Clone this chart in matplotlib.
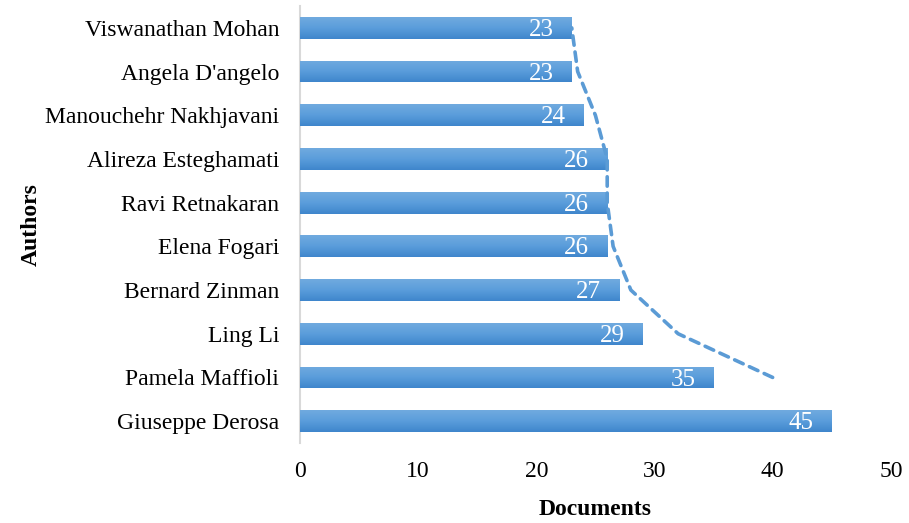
import numpy as np
import pandas as pd
import matplotlib.pyplot as plt
from matplotlib.colors import LinearSegmentedColormap

# Authors listed bottom to top, with their document counts
authors = ['Giuseppe Derosa', 'Pamela Maffioli', 'Ling Li', 'Bernard Zinman',
           'Elena Fogari', 'Ravi Retnakaran', 'Alireza Esteghamati',
           'Manouchehr Nakhjavani', "Angela D'angelo", 'Viswanathan Mohan']
documents = [45, 35, 29, 27, 26, 26, 26, 24, 23, 23]

plt.rcParams['font.family'] = ['Liberation Serif', 'DejaVu Serif']

fig = plt.figure(figsize=(9.09, 5.23), dpi=100)
ax = fig.add_axes([0.330, 0.153, 0.650, 0.8355])

y = np.arange(len(authors))
bars = ax.barh(y, documents, height=0.5, color='#5b9bd5', zorder=2)

# Vertical gradient fill for each bar (lighter on top, darker underneath)
grad_cmap = LinearSegmentedColormap.from_list('bar_grad', ['#3f86cc', '#5a9ddb', '#70aadf'])
gradient = np.linspace(0, 1, 64).reshape(-1, 1)
for bar in bars:
    x0, y0 = bar.get_x(), bar.get_y()
    w, h = bar.get_width(), bar.get_height()
    im = ax.imshow(gradient, cmap=grad_cmap, aspect='auto', origin='lower',
                   extent=[x0, x0 + w, y0, y0 + h], zorder=3)
    im.set_clip_path(bar)

# Value labels inside the bar ends
for yi, val in zip(y, documents):
    ax.annotate(str(val), xy=(val, yi), xytext=(-13, -1.5), textcoords='offset points',
                ha='right', va='center', color='white', fontsize=18, zorder=4)

# Two-period moving average trendline
moving_avg = pd.Series(documents).rolling(2).mean()
ax.plot(moving_avg[1:], y[1:], linestyle=(0, (2.6, 1.9)), color='#5b9bd5',
        linewidth=2.6, dash_capstyle='round', zorder=5)

ax.set_xlim(0, 50)
ax.set_ylim(-0.5, len(authors) - 0.5)
ax.set_xticks(range(0, 51, 10))
ax.set_yticks(y)
ax.set_yticklabels(authors)
ax.tick_params(axis='both', length=0, labelsize=17)
ax.tick_params(axis='y', pad=15)
ax.tick_params(axis='x', pad=13)

for side in ['top', 'right', 'bottom']:
    ax.spines[side].set_visible(False)
ax.spines['left'].set_color('#d9d9d9')
ax.spines['left'].set_linewidth(1.5)

ax.set_xlabel('Documents', fontsize=17, fontweight='bold', labelpad=12)
ax.set_ylabel('Authors', fontsize=17, fontweight='bold', labelpad=2)

fig.savefig('out.png', dpi=100)
